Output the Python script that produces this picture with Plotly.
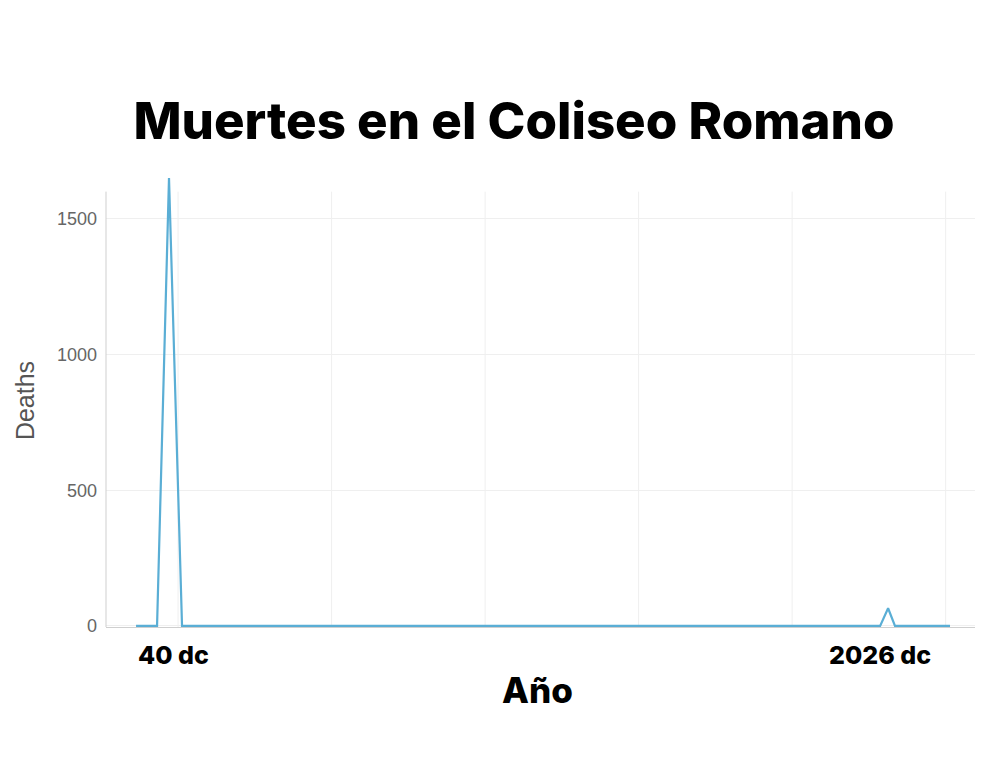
import plotly.graph_objects as go

# Data (years, deaths)
years = [-51, 7, 40, 76, 2004, 2026, 2045, 2197]
deaths = [0, 0, 1650, 0, 0, 65, 0, 0]

y_ticks = [0, 500, 1000, 1500]
grid_years = [65, 489, 913, 1337, 1761, 2185]
label_years = [40, 2026]
label_texts = ["40 dc", "2026 dc"]

title_text = "Muertes en el Coliseo Romano"
x_title = "Año"
y_title = "Deaths"

fig = go.Figure()
fig.add_trace(go.Scatter(
    x=years, y=deaths, mode="lines",
    line=dict(color="#5aaed5", width=2.2),
    showlegend=False, hoverinfo="skip",
))

fig.update_layout(
    width=1000, height=768,
    paper_bgcolor="white", plot_bgcolor="white",
    margin=dict(l=98, r=33, t=166, b=149),
    title=dict(
        text=title_text, x=0.506, xanchor="center", y=1 - 113 / 768, yanchor="middle",
        yref="container",
        font=dict(family="Inter", size=51, color="black", weight=800),
    ),
    font=dict(family="Liberation Sans, Arial", color="#666"),
)

fig.update_xaxes(
    range=[-134, 2266], showticklabels=False,
    showgrid=False,
    showline=True, linecolor="#cfcfcf", linewidth=1,
    zeroline=False, ticks="",
)
fig.update_yaxes(
    range=[-4, 1665], tickvals=y_ticks,
    showgrid=True, gridcolor="#efefef",
    showline=False, zeroline=False, ticks="",
    tickfont=dict(size=18, color="#666"),
    ticklabelstandoff=8,
    title=dict(text=y_title, font=dict(size=25, color="#555"), standoff=15),
)

# vertical grid lines up to the top of the y axis
for gx in grid_years:
    fig.add_shape(type="line", xref="x", yref="y", x0=gx, x1=gx, y0=-4, y1=1600,
                  line=dict(color="#efefef", width=1), layer="below")

# y axis line up to 1600
fig.add_shape(type="line", xref="paper", yref="y", x0=0, x1=0, y0=-4, y1=1600,
              line=dict(color="#cfcfcf", width=1))

for yr, txt, dx in zip(label_years, label_texts, [4, -8]):
    fig.add_annotation(
        x=yr, y=0, xref="x", yref="paper", text=txt, showarrow=False,
        xshift=dx, yshift=-28, yanchor="middle",
        font=dict(family="Inter", size=25, color="black", weight=800),
    )

fig.add_annotation(
    x=0.496, y=0, xref="paper", yref="paper", text=x_title, showarrow=False,
    yshift=-63, yanchor="middle",
    font=dict(family="Inter", size=35, color="black", weight=800),
)

fig.write_html("out.html")
